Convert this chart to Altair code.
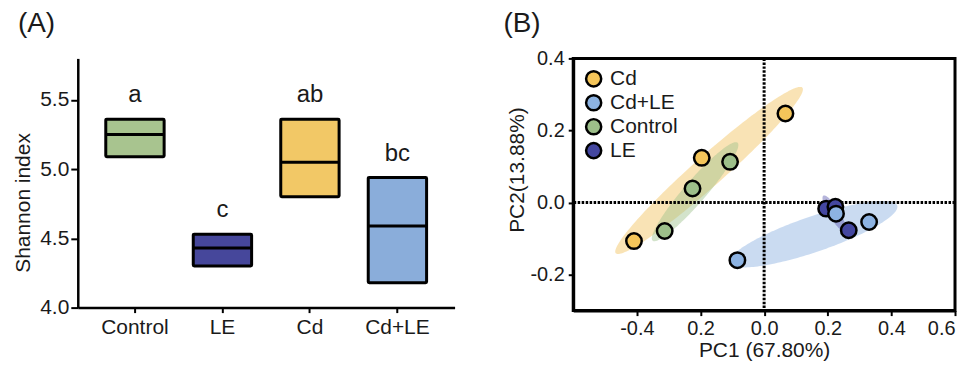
import altair as alt
import numpy as np
import pandas as pd

FONT = "Liberation Sans"
TXT = "#1a1a1a"

# ---------------- Panel A : Shannon index ----------------
groups_a = ["Control", "LE", "Cd", "Cd+LE"]
box_low = [5.09, 4.30, 4.80, 4.18]
box_high = [5.36, 4.53, 5.36, 4.94]
box_median = [5.25, 4.43, 5.05, 4.59]
sig_letters = ["a", "c", "ab", "bc"]
box_colors = ["#A8C48F", "#46479B", "#F2C866", "#8AADDA"]
y_ticks_a = [4.0, 4.5, 5.0, 5.5]
y_title_a = "Shannon index"

# ---------------- Panel B : PCA ----------------
legend_order = ["Cd", "Cd+LE", "Control", "LE"]
point_colors = ["#F4C55A", "#8DB3E2", "#9DBF8A", "#4447A0"]
ellipse_colors = ["#F2C05C", "#8AB0E0", "#9DC08B", "#5A58B0"]

pc_group = ["Cd", "Cd", "Cd", "Control", "Control", "Control",
            "LE", "LE", "LE", "Cd+LE", "Cd+LE", "Cd+LE"]
pc1 = [0.067, -0.196, -0.409, -0.107, -0.225, -0.3125,
       0.195, 0.224, 0.266, -0.084, 0.226, 0.330]
pc2 = [0.247, 0.124, -0.107, 0.113, 0.039, -0.079,
       -0.017, -0.012, -0.077, -0.160, -0.031, -0.054]

# ellipse: centre, half x-extent, slope of the
# conjugate diameter, half vertical thickness at the centre (data units)
ell_cx = [-0.173, 0.155, -0.217, 0.221]
ell_cy = [0.089, -0.088, 0.030, -0.031]
ell_halfwidth = [0.295, 0.264, 0.136, 0.0375]
ell_slope = [0.763, 0.288, 0.953, -1.16]
ell_halfheight = [0.056, 0.052, 0.046, 0.026]

x_tick_values = [-0.4, -0.2, 0.0, 0.2, 0.4, 0.6]
x_tick_labels = ["-0.4", "0.2", "0.0", "0.2", "0.4", "0.6"]
y_tick_values = [-0.2, 0.0, 0.2, 0.4]
y_tick_labels = ["-0.2", "0.0", "0.2", "0.4"]
x_title_b = "PC1 (67.80%)"
y_title_b = "PC2(13.88%)"


def label_expr(values, labels):
    expr = "'" + labels[-1] + "'"
    for i in range(len(values) - 2, -1, -1):
        mid = (values[i] + values[i + 1]) / 2
        expr = f"datum.value < {mid:.3f} ? '{labels[i]}' : ({expr})"
    return expr


def side_title(text, x, y):
    return alt.Chart(pd.DataFrame({"t": [text]})).mark_text(
        angle=270, fontSize=21, font=FONT, color=TXT, align="center",
        baseline="middle").encode(x=alt.value(x), y=alt.value(y), text="t:N")


# ---------- build panel A ----------
df_a = pd.DataFrame({"group": groups_a, "low": box_low, "high": box_high,
                     "median": box_median, "letter": sig_letters})

x_a = alt.X("group:N", sort=groups_a,
            scale=alt.Scale(paddingInner=0.333, paddingOuter=0.32),
            axis=alt.Axis(title=None, labelAngle=0, labelFontSize=21,
                          tickSize=5, tickWidth=2, domainWidth=2.5,
                          labelPadding=4, labelColor=TXT,
                          domainColor="black", tickColor="black"))
y_scale_a = alt.Scale(domain=[4.0, 5.8], nice=False, zero=False)
y_axis_a = alt.Axis(values=y_ticks_a, format=".1f", title=None,
                    labelFontSize=21, tickSize=7, tickWidth=2,
                    domainWidth=2.5, labelPadding=2, grid=False,
                    labelColor=TXT, domainColor="black", tickColor="black")

boxes = alt.Chart(df_a).mark_bar(stroke="black", strokeWidth=3,
                                 cornerRadius=1).encode(
    x=x_a,
    y=alt.Y("low:Q", scale=y_scale_a, axis=y_axis_a),
    y2="high:Q",
    color=alt.Color("group:N",
                    scale=alt.Scale(domain=groups_a, range=box_colors),
                    legend=None),
)
medians = alt.Chart(df_a).mark_tick(color="black", thickness=3,
                                    size=58, opacity=1).encode(
    x=alt.X("group:N", sort=groups_a), y=alt.Y("median:Q"))
letters = alt.Chart(df_a).mark_text(dy=-24, fontSize=24, font=FONT,
                                    color=TXT, baseline="middle").encode(
    x=alt.X("group:N", sort=groups_a), y=alt.Y("high:Q"), text="letter:N")

panel_a = alt.layer(boxes, medians, letters,
                    side_title(y_title_a, -54, 145)).properties(
    width=378, height=250,
    title=alt.TitleParams("(A)", anchor="start", frame="bounds", fontSize=28,
                          fontWeight="normal", font=FONT, color=TXT,
                          offset=20, dx=5),
)

# ---------- build panel B ----------
df_b = pd.DataFrame({"group": pc_group, "pc1": pc1, "pc2": pc2})

rows = []
for g, cx, cy, w, s, h in zip(legend_order, ell_cx, ell_cy, ell_halfwidth,
                              ell_slope, ell_halfheight):
    for t in np.linspace(0, np.pi, 90):
        dx = -w * np.cos(t)
        half = h * np.sin(t)
        rows.append({"ell": g, "x": cx + dx,
                     "ylo": cy + s * dx - half, "yhi": cy + s * dx + half})
df_ell = pd.DataFrame(rows)

x_scale_b = alt.Scale(domain=[-0.6, 0.6], nice=False, zero=False)
y_scale_b = alt.Scale(domain=[-0.3, 0.4], nice=False, zero=False)
x_axis_b = alt.Axis(values=x_tick_values,
                    labelExpr=label_expr(x_tick_values, x_tick_labels),
                    title=x_title_b, titleFontSize=21,
                    titleFontWeight="normal", labelFontSize=20, tickSize=5,
                    tickWidth=2, domainWidth=3, labelPadding=3, titlePadding=1,
                    grid=False, labelFlush=True, labelColor=TXT,
                    titleColor=TXT, domainColor="black", tickColor="black")
y_axis_b = alt.Axis(values=y_tick_values,
                    labelExpr=label_expr(y_tick_values, y_tick_labels),
                    title=None, labelFontSize=20, tickSize=5,
                    tickWidth=2, domainWidth=3, labelPadding=4, grid=False,
                    labelColor=TXT, domainColor="black", tickColor="black")

ell_layers = []
for i, (g, c) in enumerate(zip(legend_order, ellipse_colors)):
    if i == 0:
        enc = dict(x=alt.X("x:Q", scale=x_scale_b, axis=x_axis_b),
                   y=alt.Y("ylo:Q", scale=y_scale_b, axis=y_axis_b),
                   y2="yhi:Q")
    else:
        enc = dict(x=alt.X("x:Q", scale=x_scale_b),
                   y=alt.Y("ylo:Q", scale=y_scale_b), y2="yhi:Q")
    ell_layers.append(
        alt.Chart(df_ell).transform_filter(alt.datum.ell == g)
        .mark_area(color=c, opacity=0.45).encode(**enc))

zero_v = alt.Chart(pd.DataFrame({"v": [0.0]})).mark_rule(
    color="black", strokeWidth=3, strokeDash=[2.5, 1.5]).encode(x="v:Q")
zero_h = alt.Chart(pd.DataFrame({"v": [0.0]})).mark_rule(
    color="black", strokeWidth=3, strokeDash=[2.5, 1.5]).encode(y="v:Q")
points = alt.Chart(df_b).mark_point(filled=True, shape="circle", size=240,
                                    stroke="black", strokeWidth=2.5,
                                    opacity=1).encode(
    x=alt.X("pc1:Q"),
    y=alt.Y("pc2:Q"),
    color=alt.Color("group:N",
                    scale=alt.Scale(domain=legend_order, range=point_colors),
                    legend=alt.Legend(title=None, orient="none", legendX=10,
                                      legendY=10, labelFontSize=21,
                                      labelFont=FONT, labelColor=TXT,
                                      symbolSize=230, symbolType="circle",
                                      symbolStrokeColor="black",
                                      symbolStrokeWidth=2.5, symbolOpacity=1,
                                      labelOffset=6, rowPadding=-12,
                                      padding=0)),
)

panel_b = alt.layer(*ell_layers, zero_v, zero_h, points,
                    side_title(y_title_b, -55, 112)).properties(
    width=383, height=253,
    view=alt.ViewBackground(stroke="black", strokeWidth=3),
    title=alt.TitleParams("(B)", anchor="start", frame="bounds", fontSize=28,
                          fontWeight="normal", font=FONT, color=TXT,
                          offset=10, dx=-4),
)

chart = alt.hconcat(panel_a, panel_b, spacing=47).resolve_scale(
    color="independent", x="independent", y="independent").resolve_legend(
    color="independent").properties(
    padding={"left": 5, "top": 0, "right": 0, "bottom": 0},
).configure(font=FONT).configure_view(stroke=None)

chart.save("out.html", embed_options={"renderer": "svg", "actions": False})
